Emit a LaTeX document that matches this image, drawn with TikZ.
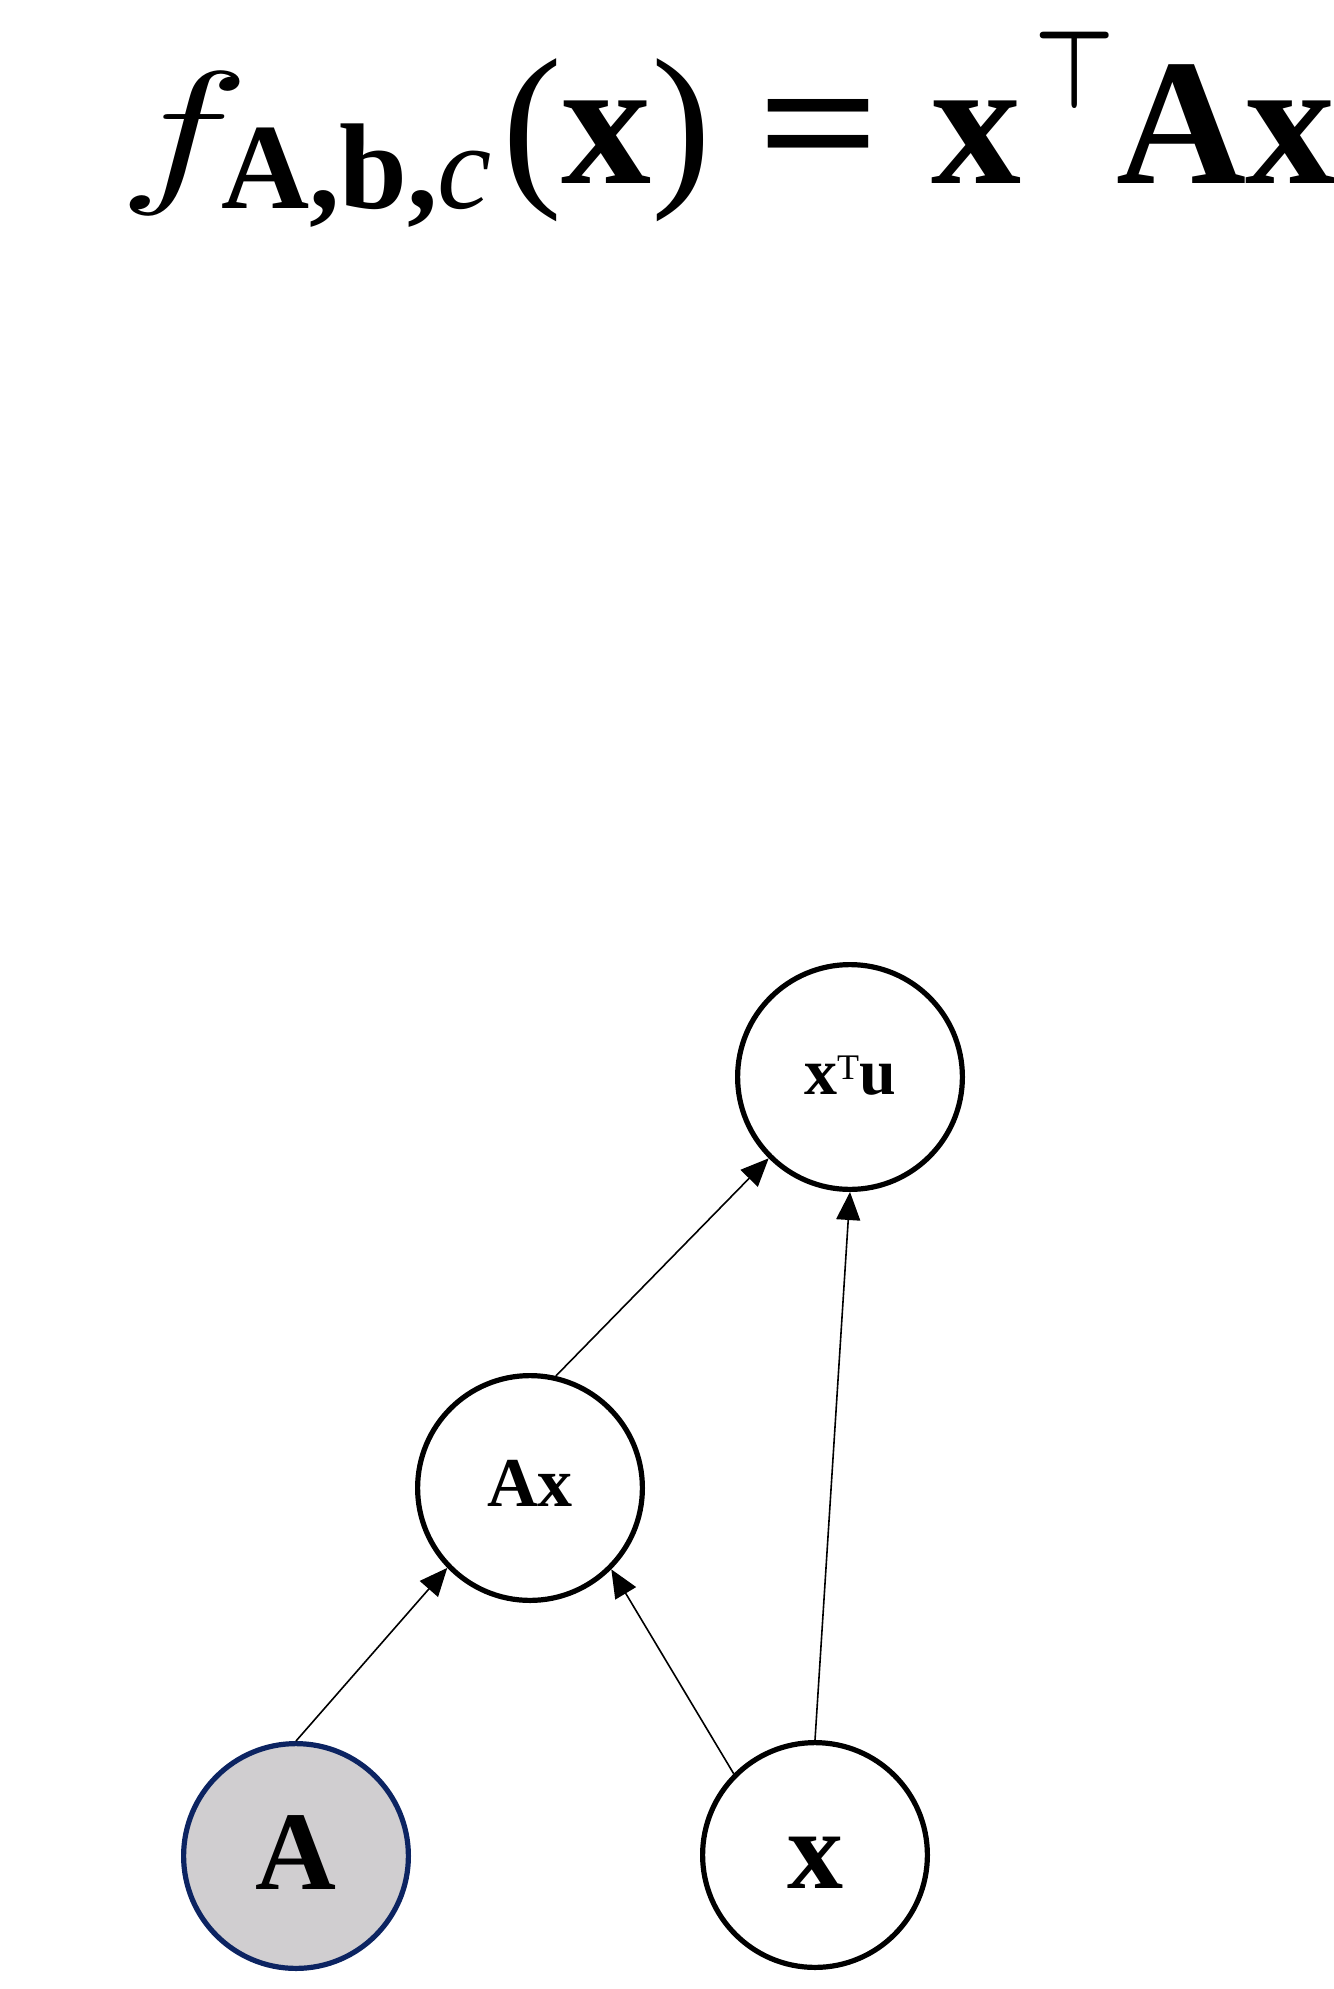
\documentclass[tikz,border=0pt]{standalone}
\usepackage{fontspec}
\setmainfont{Liberation Serif}
\usepackage{graphicx}
\usetikzlibrary{arrows.meta}
\definecolor{nodegray}{RGB}{208,206,208}
\definecolor{navyline}{RGB}{12,36,98}
\begin{document}
\begin{tikzpicture}[x=0.5pt,y=-0.5pt,
  var/.style={circle, draw=black, line width=2.6pt, fill=white, minimum size=112.4pt, inner sep=0pt},
  obs/.style={var, draw=navyline, fill=nodegray},
  big/.style={font=\fontsize{56}{56}\selectfont\bfseries, text height=33pt, text depth=0pt},
  mid/.style={font=\fontsize{35}{35}\selectfont\bfseries, text height=18pt, text depth=0pt},
  edge/.style={line width=0.8pt, -{Triangle[length=14pt,width=12pt]}},
  eq/.style={anchor=base west, inner sep=0pt, outer sep=0pt}]
\useasboundingbox (0,0) rectangle (1333,1989);
\fill[white] (0,0) rectangle (1333,1989);
% equation
\node[eq] (eqf) at (118,184) {\scalebox{11}[8]{$f$}};
\node[eq, font=\fontsize{61}{61}\selectfont] (eqsub) at (221,209) {\textbf{A,b,}\textit{c}};
\node[eq, font=\fontsize{90}{90}\selectfont] (eqarg) at (502,184) {(\textbf{x})};
\node[eq, font=\fontsize{90}{90}\selectfont\bfseries] (eqeq) at (757,184) {\scalebox{1.2}[1]{=}};
\node[eq, font=\fontsize{90}{90}\selectfont\bfseries] (eqx) at (931,184) {x};
\node[eq] (eqT) at (1034,109) {\scalebox{4.5}[5.5]{\boldmath$\top$}};
\node[eq, font=\fontsize{90}{90}\selectfont\bfseries] (eqAx) at (1116,184) {Ax};
% graph
\node[obs, big] (A) at (296,1856) {A};
\node[var, big] (x) at (815,1855) {x};
\node[var, mid] (Ax) at (530,1488) {Ax};
\node[var, font=\fontsize{33}{33}\selectfont, text height=17pt, text depth=0pt] (xTu) at (850,1077)
  {\textbf{x}\raisebox{7.5pt}{\fontsize{18}{18}\selectfont T}\textbf{u}};
\draw[edge] (A.90) -- (Ax.224);
\draw[edge] (x.135) -- (Ax.-45);
\draw[edge] (Ax.77) -- (xTu.225);
\draw[edge] (x.90) -- (xTu.-90);
\end{tikzpicture}
\end{document}
